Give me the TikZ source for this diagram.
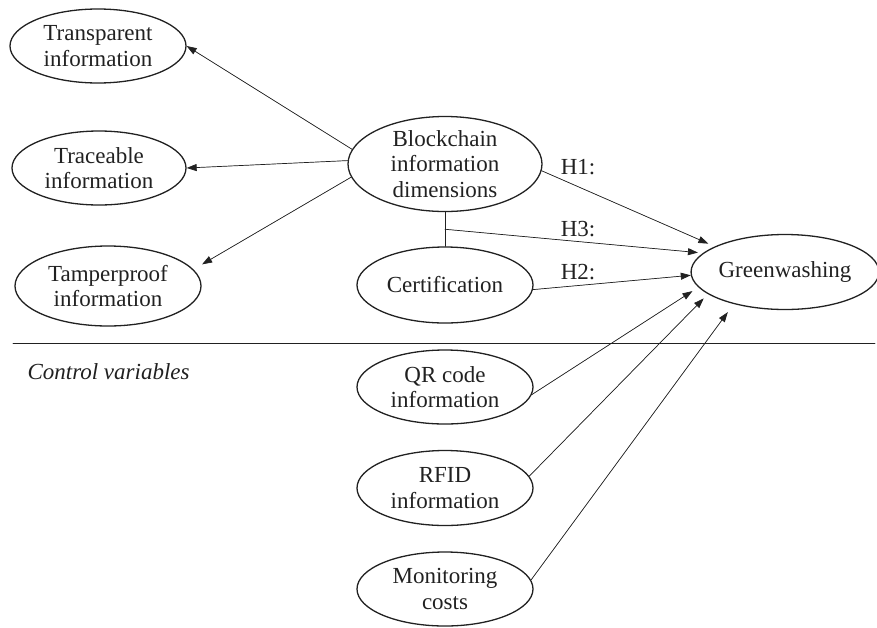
\documentclass[tikz,border=0pt]{standalone}
\usepackage{fontspec}
\setmainfont{Liberation Serif}
\usetikzlibrary{arrows.meta, calc, positioning, shapes}
\definecolor{ink}{rgb}{0.13, 0.13, 0.13}

\begin{document}
\begin{tikzpicture}[x=1pt, y=-1pt, line cap=round, line join=round, >={Triangle[length=10pt,width=7pt]},
		var/.style={ellipse, draw=ink, line width=1.3pt, inner sep=0pt, align=center, text=ink,
			font=\fontsize{23}{25.5}\selectfont},
		arr/.style={->, draw=ink, fill=ink, line width=0.7pt},
		hyp/.style={text=ink, font=\fontsize{23}{25.5}\selectfont}]

		\useasboundingbox (0,0) rectangle (877,627);

		% information dimensions
		\node[var, minimum width=176pt, minimum height=74pt] (tr) at (98,46) {Transparent\\information};
		\node[var, minimum width=174pt, minimum height=74pt] (tc) at (99,168) {Traceable\\information};
		\node[var, minimum width=186pt, minimum height=80pt] (tp) at (108,286) {Tamperproof\\information};

		% main constructs
		\node[var, minimum width=194pt, minimum height=94pt] (bc) at (445,164) {Blockchain\\information\\dimensions};
		\node[var, minimum width=176pt, minimum height=76pt] (ce) at (445,285) {Certification};
		\node[var, minimum width=174pt, minimum height=75pt] (gw) at (785,272) {Greenwashing};

		% control variables
		\node[var, minimum width=176pt, minimum height=74pt] (qr) at (445,387) {QR code\\information};
		\node[var, minimum width=176pt, minimum height=75pt] (rf) at (445,488) {RFID\\information};
		\node[var, minimum width=176pt, minimum height=74pt] (mc) at (445,589) {Monitoring\\costs};

		\draw [ink, line width=0.9pt] (13,343) -- (875,343);
		\node[hyp, anchor=west, font=\fontsize{23}{25.5}\selectfont\itshape] (cv) at (24,372) {Control variables};

		% dimensions of blockchain information
		\draw [arr] (bc.171) -- (tr.east);
		\draw [arr] (bc.178) -- (tc.east);
		\draw [arr, shorten >=10pt] (bc.188) -- (tp.11);

		% hypotheses
		\coordinate (j) at ($(bc.south)!0.5!(ce.north)$);
		\draw [ink, line width=0.7pt] (bc.south) -- (ce.north);
		\draw [arr, shorten >=7pt] (bc.-4) -- (gw.160);
		\draw [arr, shorten >=5pt] (j) -- (gw.167);
		\draw [arr] (ce.-3) -- (gw.182);
		\node[hyp] (h1) at (578,167) {H1:};
		\node[hyp] (h3) at (578,229) {H3:};
		\node[hyp] (h2) at (578,272) {H2:};

		% controls
		\draw [arr, shorten >=7pt] (qr.-5) -- (gw.190);
		\draw [arr, shorten >=6pt] (rf.8) -- (gw.196);
		\draw [arr, shorten >=10pt] (mc.6) -- (gw.212);
	\end{tikzpicture}
\end{document}
